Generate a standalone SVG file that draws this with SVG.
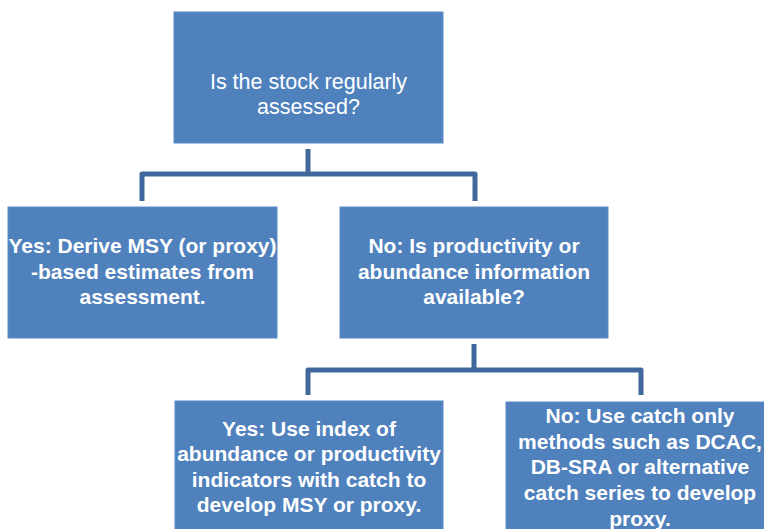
<svg xmlns="http://www.w3.org/2000/svg" width="764" height="529" viewBox="0 0 764 529">
<style>
.box{fill:#4f81bd;stroke:#5b8cc6;stroke-width:1}
.t{fill:#ffffff;font-family:"Liberation Sans",Arial,sans-serif;font-size:21px;text-anchor:middle}
.r{font-size:21.5px}
.b{font-weight:bold}
.c{fill:none;stroke:#41689b;stroke-width:5;stroke-linejoin:round}
</style>
<rect width="764" height="529" fill="#ffffff"/>
<g id="connectors">
<path class="c" d="M308,149 V174 M142,201 V174 H475 V201"/>
<path class="c" d="M474,344 V370 M308,395 V370 H641 V395"/>
</g>
<g id="n1">
<rect class="box" x="174" y="12" width="269" height="131"/>
<text class="t r" x="308.5" y="89">Is the stock regularly</text>
<text class="t r" x="308.5" y="114">assessed?</text>
</g>
<g id="n2">
<rect class="box" x="8" y="207" width="269" height="131"/>
<text class="t b" x="142.5" y="253">Yes: Derive MSY (or proxy)</text>
<text class="t b" x="142.5" y="279">-based estimates from</text>
<text class="t b" x="142.5" y="304">assessment.</text>
</g>
<g id="n3">
<rect class="box" x="340" y="207" width="268" height="131"/>
<text class="t b" x="474" y="253">No: Is productivity or</text>
<text class="t b" x="474" y="279">abundance information</text>
<text class="t b" x="474" y="304">available?</text>
</g>
<g id="n4">
<rect class="box" x="175" y="401" width="268" height="140"/>
<text class="t b" x="309" y="436">Yes: Use index of</text>
<text class="t b" x="309" y="461">abundance or productivity</text>
<text class="t b" x="309" y="487">indicators with catch to</text>
<text class="t b" x="309" y="512">develop MSY or proxy.</text>
</g>
<g id="n5">
<rect class="box" x="506" y="402" width="268" height="140"/>
<text class="t b" x="640" y="423">No: Use catch only</text>
<text class="t b" x="640" y="449">methods such as DCAC,</text>
<text class="t b" x="640" y="474">DB-SRA or alternative</text>
<text class="t b" x="640" y="500">catch series to develop</text>
<text class="t b" x="640" y="526">proxy.</text>
</g>
</svg>
